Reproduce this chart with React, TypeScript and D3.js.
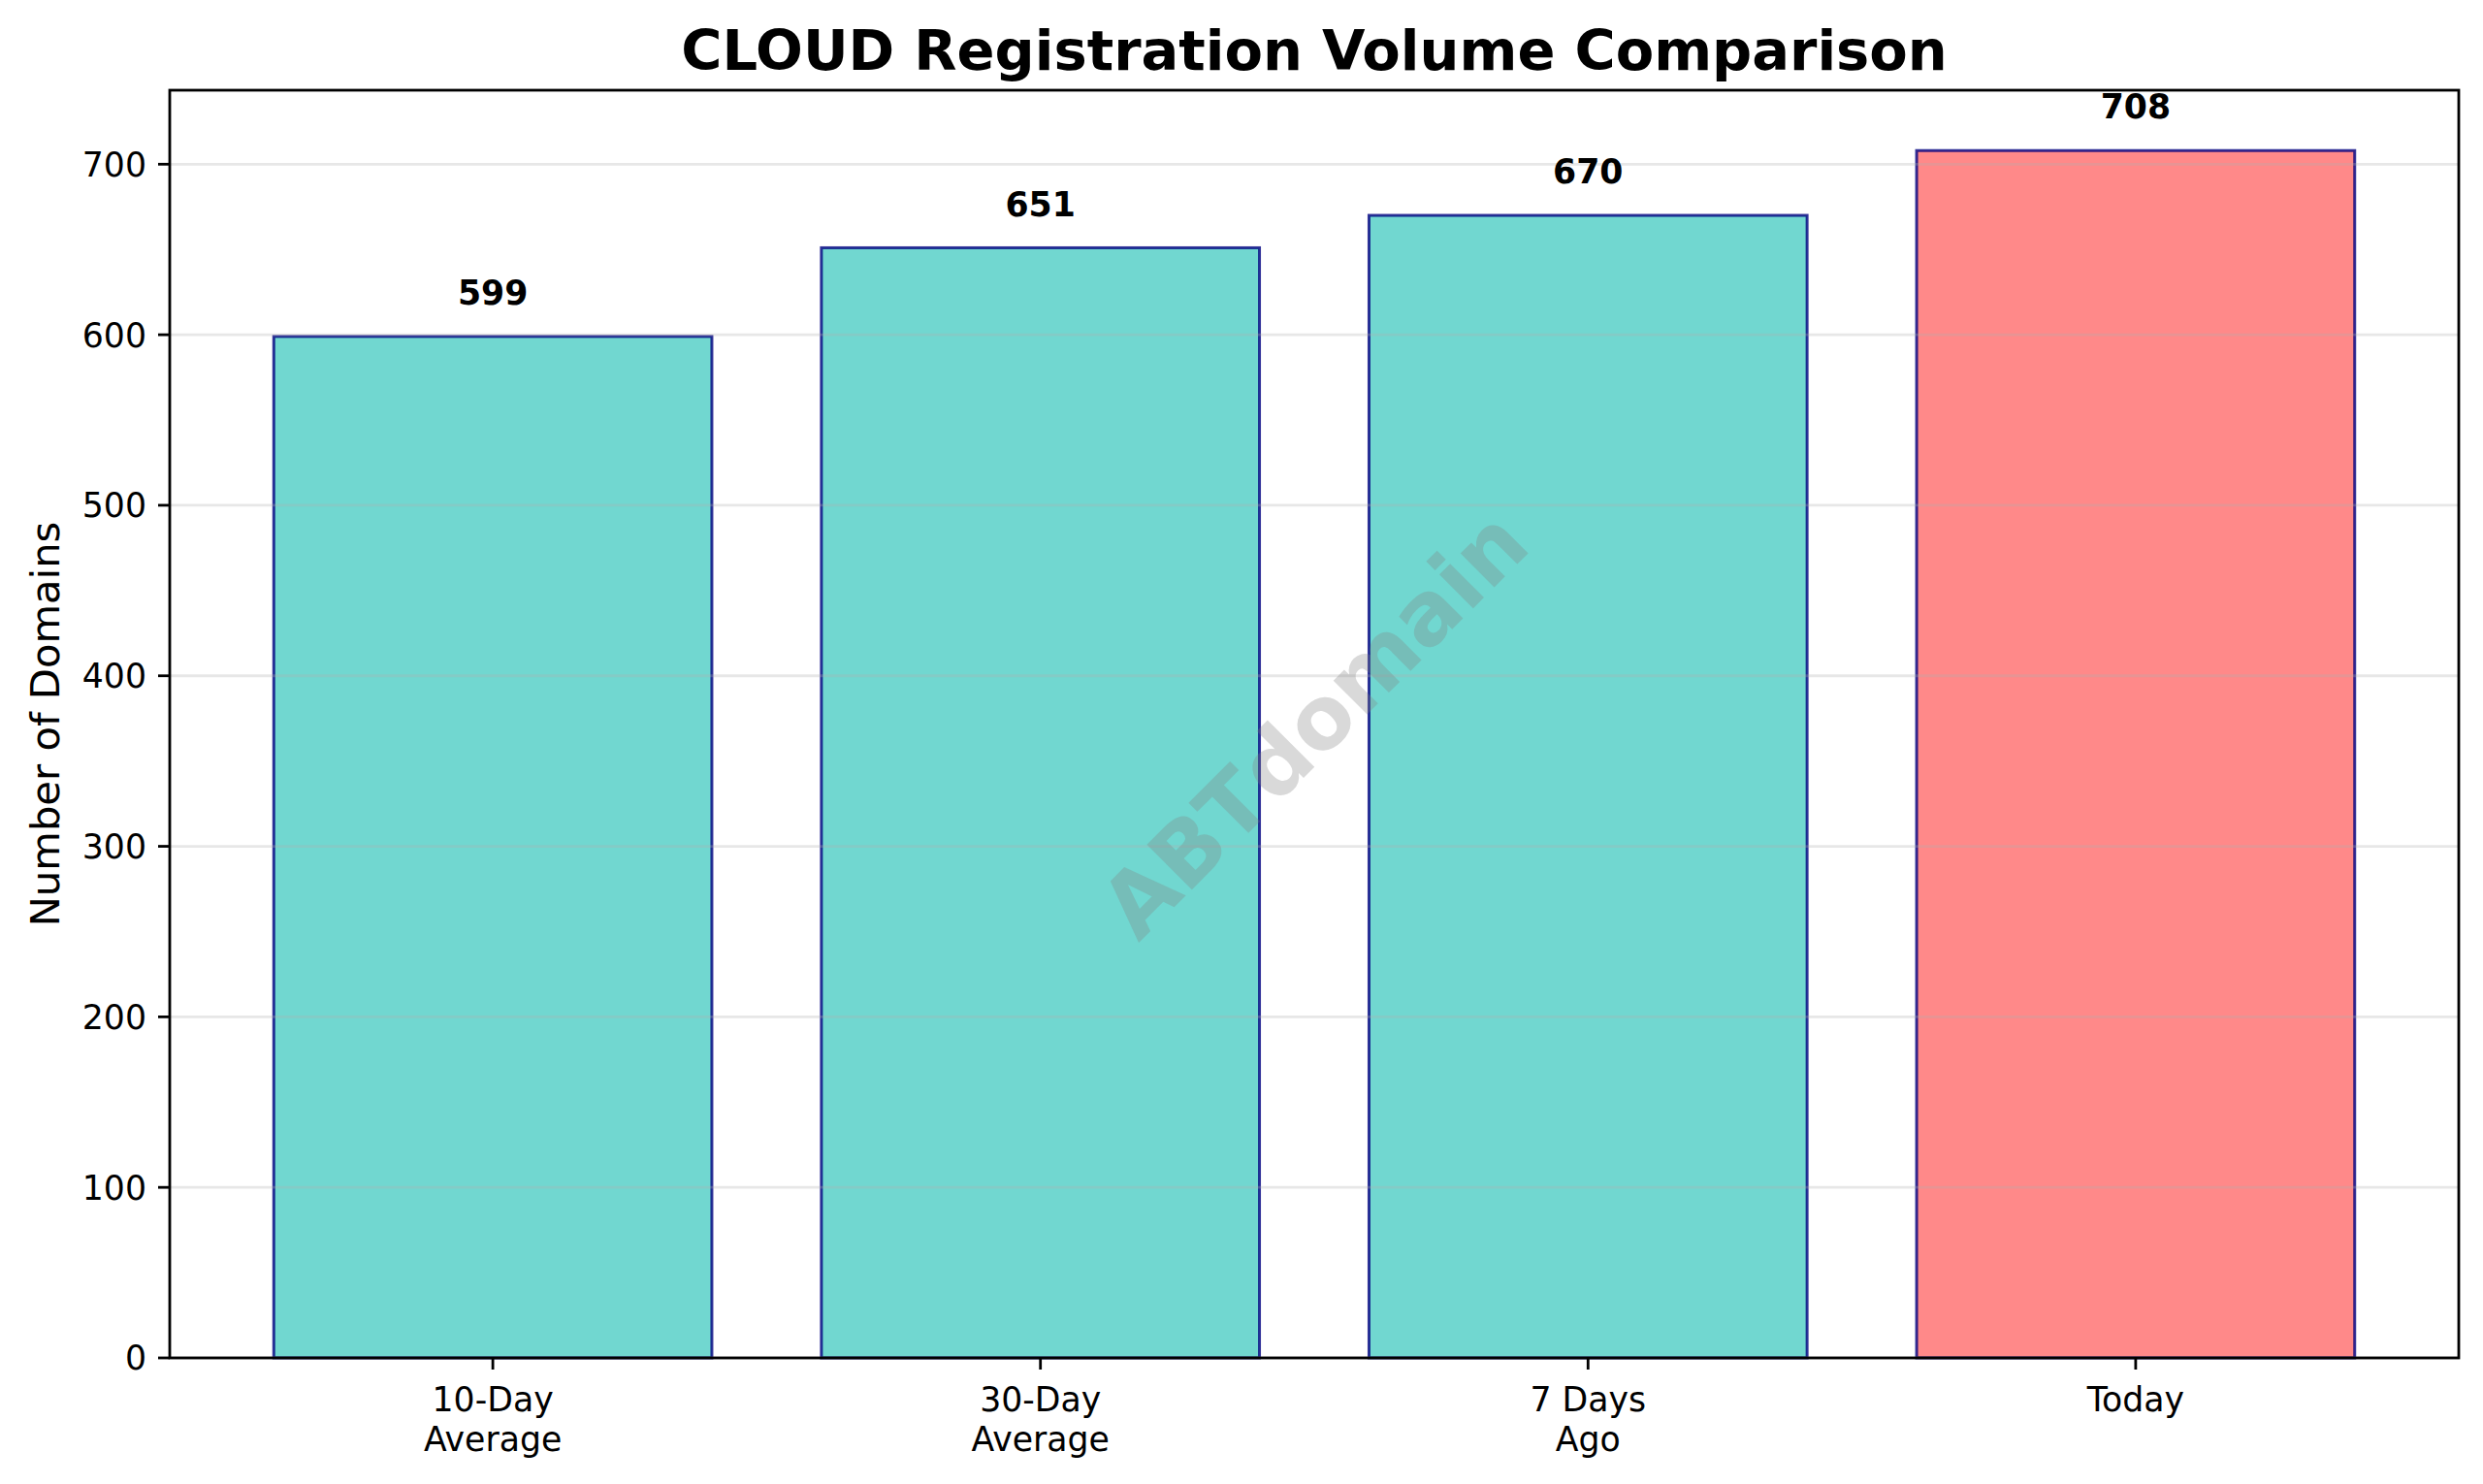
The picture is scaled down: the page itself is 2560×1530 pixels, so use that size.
import React from "react";
import * as d3 from "d3";

const categories: string[] = ["10-Day\nAverage", "30-Day\nAverage", "7 Days\nAgo", "Today"];
const values: number[] = [599, 651, 670, 708];
const barColors: string[] = ["#4ECDC4", "#4ECDC4", "#4ECDC4", "#FF6B6B"];
const yTicks: number[] = [0, 100, 200, 300, 400, 500, 600, 700];
const titleText = "CLOUD Registration Volume Comparison";
const yLabelText = "Number of Domains";
const watermarkText = "ABTdomain";

const W = 2560;
const H = 1530;
const left = 175;
const right = 2535;
const top = 93;
const bottom = 1400;
const FONT = "'DejaVu Sans', sans-serif";

export default function App() {
  const maxV = d3.max(values) as number;
  const x = d3.scaleLinear().domain([-0.59, categories.length - 1 + 0.59]).range([left, right]);
  const y = d3.scaleLinear().domain([0, maxV * 1.05]).range([bottom, top]);
  const barW = x(0.8) - x(0);
  const cx = (left + right) / 2;
  const cy = (top + bottom) / 2;

  return (
    <svg
      width={W}
      height={H}
      viewBox={`0 0 ${W} ${H}`}
      style={{ position: "absolute", left: 0, top: 0, background: "#fff" }}
      fontFamily={FONT}
    >
      <rect x={0} y={0} width={W} height={H} fill="#fff" />
      {/* bars */}
      {values.map((v, i) => (
        <rect
          key={"bar" + i}
          x={x(i) - barW / 2}
          y={y(v)}
          width={barW}
          height={y(0) - y(v)}
          fill={barColors[i]}
          fillOpacity={0.8}
          stroke="navy"
          strokeOpacity={0.8}
          strokeWidth={3}
        />
      ))}
      {/* grid */}
      {yTicks.map((t) => (
        <line
          key={"g" + t}
          x1={left}
          x2={right}
          y1={y(t)}
          y2={y(t)}
          stroke="#b0b0b0"
          strokeOpacity={0.3}
          strokeWidth={2.8}
        />
      ))}
      {/* value labels */}
      {values.map((v, i) => (
        <text
          key={"v" + i}
          x={x(i)}
          y={y(v + maxV * 0.02) - 8}
          textAnchor="middle"
          fontSize={34.7}
          fontWeight="bold"
          fill="#000"
        >
          {String(v)}
        </text>
      ))}
      {/* watermark */}
      <text
        x={cx}
        y={cy}
        transform={`rotate(-45 ${cx} ${cy})`}
        textAnchor="middle"
        dominantBaseline="central"
        fontSize={90}
        fontWeight="bold"
        fill="gray"
        fillOpacity={0.3}
      >
        {watermarkText}
      </text>
      {/* spines */}
      <rect x={left} y={top} width={right - left} height={bottom - top} fill="none" stroke="#000" strokeWidth={2.8} />
      {/* y ticks */}
      {yTicks.map((t) => (
        <g key={"yt" + t}>
          <line x1={left - 12} x2={left} y1={y(t)} y2={y(t)} stroke="#000" strokeWidth={2.8} />
          <text x={left - 12 - 12} y={y(t)} dy="0.36em" textAnchor="end" fontSize={34.7} fill="#000">
            {String(t)}
          </text>
        </g>
      ))}
      {/* x ticks */}
      {categories.map((c, i) => (
        <g key={"xt" + i}>
          <line x1={x(i)} x2={x(i)} y1={bottom} y2={bottom + 12} stroke="#000" strokeWidth={2.8} />
          <text x={x(i)} y={bottom + 12 + 12} textAnchor="middle" fontSize={34.7} fill="#000">
            {c.split("\n").map((ln, k) => (
              <tspan key={k} x={x(i)} dy={k === 0 ? "0.88em" : "1.2em"}>
                {ln}
              </tspan>
            ))}
          </text>
        </g>
      ))}
      {/* y label */}
      <text
        transform={`translate(46 ${cy}) rotate(-90)`}
        textAnchor="middle"
        dominantBaseline="central"
        fontSize={41.7}
        fill="#000"
      >
        {yLabelText}
      </text>
      {/* title */}
      <text x={cx} y={72} textAnchor="middle" fontSize={57.5} fontWeight="bold" fill="#000">
        {titleText}
      </text>
    </svg>
  );
}
